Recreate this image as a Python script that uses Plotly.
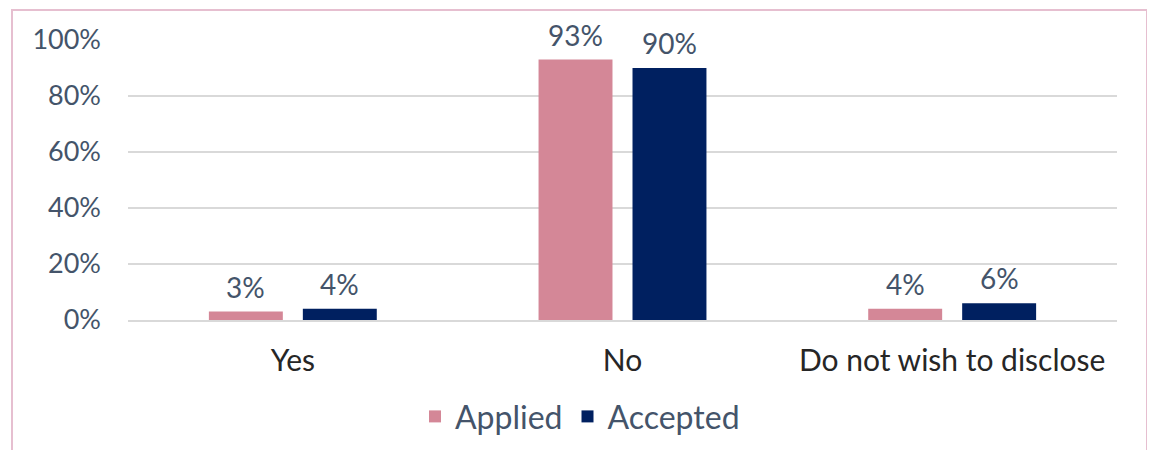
import plotly.graph_objects as go

categories = ["Yes", "No", "Do not wish to disclose"]
applied = [0.03, 0.93, 0.04]
accepted = [0.04, 0.90, 0.06]
series_names = ["Applied", "Accepted"]
colors = ["#D48797", "#002060"]

FONT = "Lato"
TXT = "#44546A"

fig = go.Figure()
for name, vals, col in zip(series_names, [applied, accepted], colors):
    fig.add_trace(go.Bar(
        x=categories, y=vals, name=name, marker=dict(color=col, line=dict(width=0)),
    ))

annotations = []
for shift, vals in zip([-47, 47], [applied, accepted]):
    for c, v in zip(categories, vals):
        annotations.append(dict(
            x=c, y=v, xref="x", yref="y", text=f"{round(v*100)}%", showarrow=False,
            xshift=shift, yanchor="bottom", yshift=6,
            font=dict(family=FONT, size=28, color=TXT),
        ))

# The page has an 8px body margin; figure coordinates are screen - 8
fig.update_layout(
    width=1147, height=442,
    margin=dict(l=120, r=38, t=32, b=130, autoexpand=False),
    paper_bgcolor="white", plot_bgcolor="white",
    barmode="group", bargap=0.43, bargroupgap=0.213,
    font=dict(family=FONT, size=27, color=TXT),
    legend=dict(orientation="h", x=0.457, xanchor="center", y=-0.345, yanchor="middle",
                font=dict(family=FONT, size=32, color=TXT), itemwidth=30,
                traceorder="normal"),
    xaxis=dict(showgrid=False, showline=True, linecolor="#D9D9D9", linewidth=2,
               tickfont=dict(family=FONT, size=30, color="#262626"), ticks="",
               ticklabelstandoff=13, automargin=False),
    yaxis=dict(range=[0, 1.0], dtick=0.2, tickformat=".0%", showgrid=True,
               gridcolor="#D9D9D9", gridwidth=2, zeroline=False, showline=False,
               tickfont=dict(family=FONT, size=27, color=TXT), ticks="", ticklabelstandoff=26,
               automargin=False),
    annotations=annotations,
    shapes=[dict(type="rect", xref="paper", yref="paper",
                 x0=(4-120)/989, x1=(1139-120)/989, y0=-0.6, y1=(312-2)/280,
                 line=dict(color="#E6BFD0", width=2), fillcolor="rgba(0,0,0,0)", layer="below")],
)

fig.write_html("out.html")
